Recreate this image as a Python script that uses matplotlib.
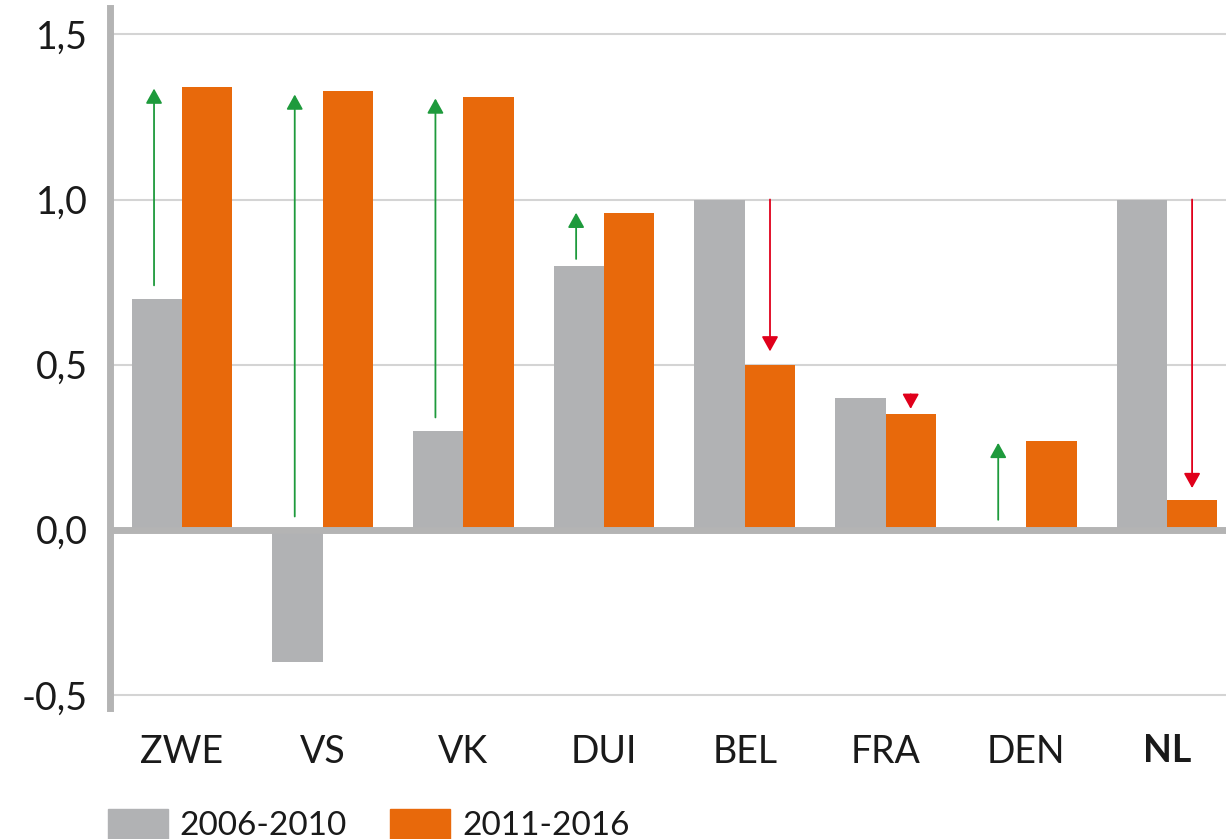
import matplotlib.pyplot as plt
from matplotlib.patches import Patch

plt.rcParams['font.family'] = ['Lato', 'DejaVu Sans']

# data
countries = ['ZWE', 'VS', 'VK', 'DUI', 'BEL', 'FRA', 'DEN', 'NL']
period_1 = [0.70, -0.40, 0.30, 0.80, 1.00, 0.40, 0.00, 1.00]   # 2006-2010
period_2 = [1.34, 1.33, 1.31, 0.96, 0.50, 0.35, 0.27, 0.09]    # 2011-2016
legend_labels = ['2006-2010', '2011-2016']
y_ticks = [-0.5, 0.0, 0.5, 1.0, 1.5]
y_tick_labels = ['-0,5', '0,0', '0,5', '1,0', '1,5']

# change arrows: (country index, start, end, up/down)
arrow_idx = [0, 1, 2, 3, 4, 5, 6, 7]
arrow_start = [0.74, 0.04, 0.34, 0.82, 1.00, 0.41, 0.03, 1.00]
arrow_end = [1.336, 1.318, 1.306, 0.96, 0.54, 0.366, 0.263, 0.126]
arrow_up = [True, True, True, True, False, False, True, False]

gray = '#b1b2b4'
orange = '#e8690b'
green = '#1e9a3c'
red = '#e0001b'
axis_gray = '#b4b4b4'
grid_gray = '#d4d4d4'
text_col = '#1a1a1a'

fig = plt.figure(figsize=(12.26, 8.39), dpi=100)
ax = fig.add_axes([110 / 1226, 131 / 839, 1 - 110 / 1226, 700 / 839])

w = 0.358
x = list(range(len(countries)))
ax.bar([i - w / 2 for i in x], period_1, width=w, color=gray, zorder=2)
ax.bar([i + w / 2 for i in x], period_2, width=w, color=orange, zorder=2)

# arrows: green ones sit on the grey bar, red ones on the orange bar
for i, s, e, up in zip(arrow_idx, arrow_start, arrow_end, arrow_up):
    if up:
        xp = i - w / 2 - 0.02
        col = green
    else:
        xp = i + w / 2
        col = red
    ax.annotate('', xy=(xp, e), xytext=(xp, s),
                arrowprops=dict(arrowstyle='-|>,head_width=0.5,head_length=0.9',
                                color=col, lw=1.3, shrinkA=0, shrinkB=0),
                zorder=4)

ax.set_xlim(-0.512, 7.42)
ax.set_ylim(-0.54, 1.58)

[ax.axhline(y=v, color=grid_gray, lw=1.5, zorder=1) for v in [-0.5, 0.5, 1.0, 1.5]]
ax.axhline(0, color=axis_gray, lw=5, zorder=3)

for s in ['top', 'right', 'bottom']:
    ax.spines[s].set_visible(False)
ax.spines['left'].set_color(axis_gray)
ax.spines['left'].set_linewidth(5)

ax.set_yticks(y_ticks)
ax.set_yticklabels(y_tick_labels)
ax.set_xticks(x)
ax.set_xticklabels(countries)
ax.get_xticklabels()[-1].set_fontweight('bold')
ax.tick_params(axis='y', length=0, pad=16, labelsize=27, labelcolor=text_col)
ax.tick_params(axis='x', length=0, pad=19, labelsize=27, labelcolor=text_col)

handles = [Patch(color=gray), Patch(color=orange)]
fig.legend(handles, legend_labels, loc='center left', bbox_to_anchor=(108 / 1226, 1 - 825 / 839),
           ncol=2, frameon=False, fontsize=24, handlelength=1.8, handleheight=1.0,
           handletextpad=0.35, columnspacing=1.3, borderpad=0, borderaxespad=0,
           labelcolor=text_col)

fig.savefig('out.png', dpi=100)
